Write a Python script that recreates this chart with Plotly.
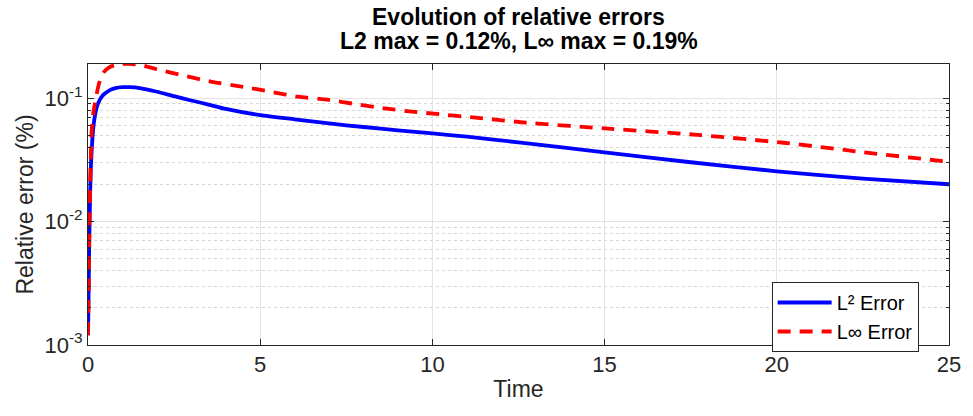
import plotly.graph_objects as go

# ---- data ----
t_l2 = [0, 0.02, 0.04, 0.06, 0.08, 0.1, 0.13, 0.16, 0.2, 0.25, 0.3, 0.4, 0.5, 0.65, 0.8,
        1.0, 1.2, 1.5, 2.0, 2.5, 3.0, 3.5, 4.0, 5.0, 6, 7, 8, 9, 10, 11, 12.5, 15, 17.5,
        20, 22.5, 25]
err_l2 = [0.0012, 0.003, 0.008, 0.016, 0.026, 0.035, 0.048, 0.06, 0.072, 0.084, 0.092,
          0.103, 0.110, 0.117, 0.121, 0.123, 0.123, 0.121, 0.113, 0.104, 0.096, 0.089,
          0.082, 0.073, 0.0675, 0.0625, 0.0585, 0.055, 0.0519, 0.0488, 0.0439, 0.0364,
          0.0303, 0.0256, 0.0223, 0.0201]

t_linf = [0, 0.02, 0.04, 0.06, 0.08, 0.1, 0.13, 0.16, 0.2, 0.25, 0.3, 0.38, 0.5, 0.65,
          0.8, 1.0, 1.2, 1.5, 2.0, 2.8, 3.6, 4.5, 5.3, 6.1, 7.0, 7.8, 8.6, 9.4, 10.2,
          11.1, 11.9, 12.7, 15.2, 17.7, 20.2, 22.5, 25]
err_linf = [0.0012, 0.003, 0.009, 0.018, 0.032, 0.05, 0.066, 0.078, 0.09, 0.108, 0.125,
            0.15, 0.168, 0.18, 0.186, 0.19, 0.19, 0.187, 0.172, 0.152, 0.136, 0.124,
            0.113, 0.103, 0.097, 0.0895, 0.083, 0.078, 0.0743, 0.0703, 0.0669, 0.0635,
            0.0565, 0.0505, 0.0436, 0.0366, 0.0305]

y_tickvals = [0.001, 0.01, 0.1]
y_ticktext = ["10<sup>-3</sup>", "10<sup>-2</sup>", "10<sup>-1</sup>"]
x_tickvals = [0, 5, 10, 15, 20, 25]

title_lines = ["Evolution of relative errors", "L2 max = 0.12%, L∞ max = 0.19%"]

TXT = "#262626"
FONT = "Liberation Sans, Arial, sans-serif"

minor_vals = [m * 10 ** e for e in (-3, -2, -1) for m in range(2, 10)]
minor_vals = [v for v in minor_vals if v < 0.19]

fig = go.Figure()
fig.add_trace(go.Scatter(x=t_l2, y=err_l2, mode="lines", name="L² Error",
                         line=dict(color="#0000FF", width=3.8, shape="spline", smoothing=0.6)))
fig.add_trace(go.Scatter(x=t_linf, y=err_linf, mode="lines", name="L∞ Error",
                         line=dict(color="#FF0000", width=3.8, dash="13px,9px",
                                   shape="spline", smoothing=0.6)))

PLOT_TOP, PLOT_BOT = 64, 345
ph = PLOT_BOT - PLOT_TOP
for i, (txt, yc) in enumerate(zip(title_lines, (17, 41))):
    fig.add_annotation(text=f"<b>{txt}</b>", xref="paper", yref="paper",
                       x=0.5, y=(PLOT_BOT - yc) / ph, xanchor="center", yanchor="middle",
                       showarrow=False, font=dict(size=23, color="black", family=FONT))

fig.update_layout(
    width=973, height=416,
    margin=dict(l=88, r=16, t=PLOT_TOP, b=416 - PLOT_BOT),
    paper_bgcolor="white", plot_bgcolor="white",
    font=dict(family=FONT, color=TXT, size=22),
    showlegend=True,
    legend=dict(x=(778 - 88) / 869, y=(345 - 282) / 281, xanchor="left", yanchor="top",
                bgcolor="white", bordercolor=TXT, borderwidth=1,
                font=dict(size=20, color="black"), tracegroupgap=0,
                itemwidth=54),
)

fig.update_xaxes(
    range=[0, 25], tickvals=x_tickvals, ticks="inside", ticklen=6, tickcolor=TXT,
    showline=True, linecolor=TXT, linewidth=1, mirror="ticks",
    showgrid=True, gridcolor="#e3e3e3", gridwidth=1, zeroline=False,
    title=dict(text="Time", standoff=4, font=dict(size=23)),
    tickfont=dict(size=22),
)
fig.update_yaxes(
    type="log", range=[-3, -0.722], tickvals=y_tickvals, ticktext=y_ticktext,
    ticks="inside", ticklen=6, tickcolor=TXT,
    showline=True, linecolor=TXT, linewidth=1, mirror="ticks",
    showgrid=True, gridcolor="#e3e3e3", gridwidth=1, zeroline=False,
    minor=dict(tickmode="array", tickvals=minor_vals, ticks="inside", ticklen=3,
               tickcolor=TXT, showgrid=True, griddash="dot", gridcolor="#d6d6d6",
               gridwidth=1),
    title=dict(text="Relative error (%)", standoff=4, font=dict(size=23)),
    tickfont=dict(size=22),
)

fig.write_html("out.html")
